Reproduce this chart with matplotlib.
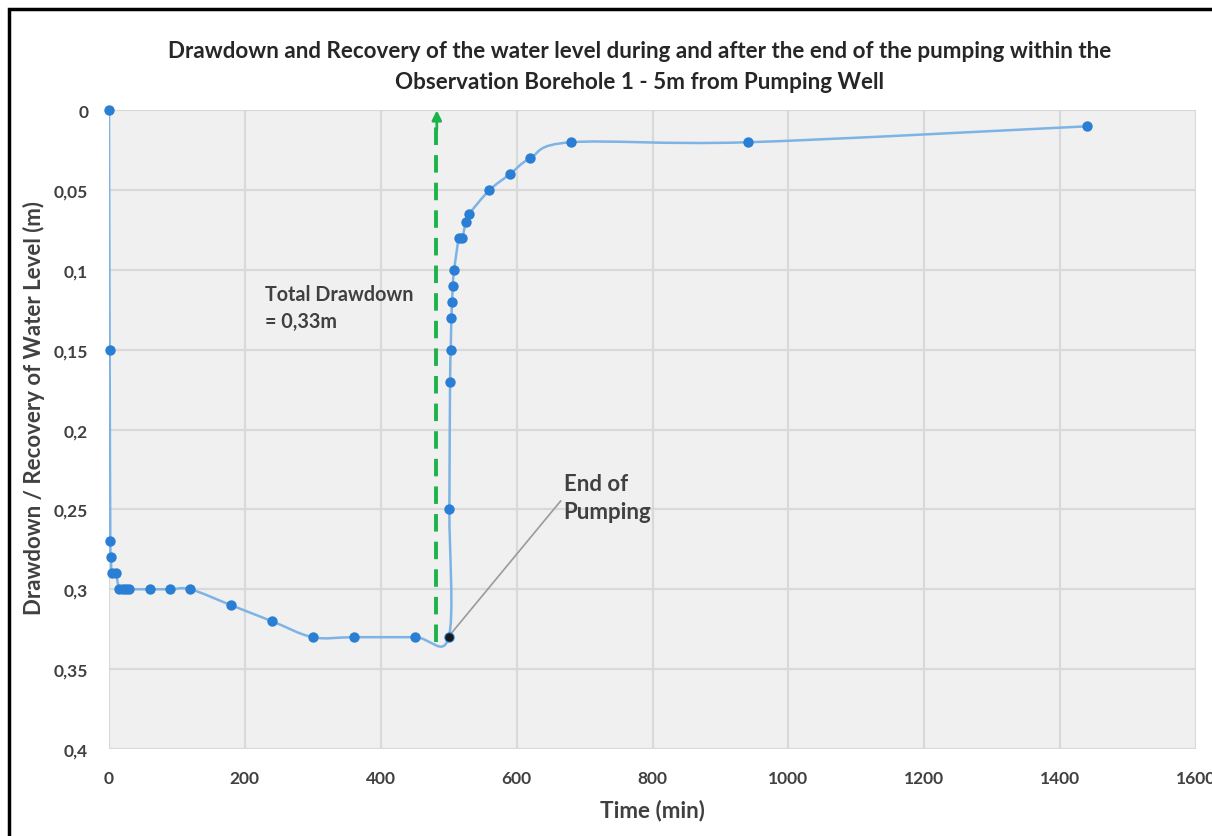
import matplotlib
matplotlib.use("Agg")
import matplotlib.pyplot as plt
from matplotlib.path import Path
from matplotlib.patches import PathPatch, Rectangle
from matplotlib.ticker import FixedLocator, FuncFormatter
import numpy as np

plt.rcParams['font.family'] = ['Lato', 'DejaVu Sans']

# Pumping phase (drawdown) and recovery readings
time_min = [0, 1, 2, 3, 4, 10, 15, 20, 25, 30, 60, 90, 120, 180, 240, 300, 360, 450, 500,
            501, 502, 503, 504, 505, 506, 508, 515, 520, 525, 530, 560, 590, 620, 680, 940, 1440]
level_m = [0, 0.15, 0.27, 0.28, 0.29, 0.29, 0.30, 0.30, 0.30, 0.30, 0.30, 0.30, 0.30, 0.31, 0.32,
           0.33, 0.33, 0.33, 0.33,
           0.25, 0.17, 0.15, 0.13, 0.12, 0.11, 0.10, 0.08, 0.08, 0.07, 0.065, 0.05, 0.04, 0.03,
           0.02, 0.02, 0.01]

end_of_pumping_t = 500
end_of_pumping_level = 0.33
total_drawdown = 0.33
arrow_t = 482

x_ticks = [0, 200, 400, 600, 800, 1000, 1200, 1400, 1600]
y_ticks = [0, 0.05, 0.1, 0.15, 0.2, 0.25, 0.3, 0.35, 0.4]

line_color = '#7eb3e6'
marker_color = '#2a7fd4'
text_color = '#404040'

fig = plt.figure(figsize=(12.12, 8.37), dpi=100)
ax = fig.add_axes([0.0899, 0.104, 0.8970, 0.763])
ax.set_facecolor('#f0f0f0')

# smoothed connecting line (cubic Bezier segments, Catmull-Rom style)
pts = np.column_stack([time_min, level_m]).astype(float)
n = len(pts)
verts = [tuple(pts[0])]
codes = [Path.MOVETO]
for i in range(n - 1):
    p0 = pts[max(i - 1, 0)]
    p1 = pts[i]
    p2 = pts[i + 1]
    p3 = pts[min(i + 2, n - 1)]
    c1 = p1 + (p2 - p0) / 6.0
    c2 = p2 - (p3 - p1) / 6.0
    verts += [tuple(c1), tuple(c2), tuple(p2)]
    codes += [Path.CURVE4] * 3
ax.add_patch(PathPatch(Path(verts, codes), facecolor='none', edgecolor=line_color,
                       lw=1.8, zorder=3))

ax.scatter(time_min, level_m, s=56, color=marker_color, zorder=4, linewidths=0, clip_on=False)
ax.scatter([end_of_pumping_t], [end_of_pumping_level], s=36, color='#1a1a1a', zorder=5,
           linewidths=0)

# dashed green arrow showing the total drawdown
ax.plot([arrow_t, arrow_t], [total_drawdown + 0.003, 0.006], color='#1db34b', lw=2.8,
        dashes=(4.5, 2.6), zorder=3, solid_capstyle='butt', dash_capstyle='butt')
ax.annotate('', xy=(arrow_t + 0.5, 0.0), xytext=(arrow_t + 0.5, 0.012),
            arrowprops=dict(arrowstyle='-|>', color='#1db34b', lw=2.0,
                            mutation_scale=14, shrinkA=0, shrinkB=0), zorder=3)

ax.text(229, 0.109, 'Total Drawdown\n= 0,33m', fontsize=14.2, color=text_color,
        fontweight='bold', ha='left', va='top', linespacing=1.4)

ax.annotate('End of\nPumping', xy=(end_of_pumping_t + 3, end_of_pumping_level - 0.002),
            xytext=(669, 0.2425), fontsize=16, color=text_color, fontweight='bold',
            ha='left', va='center', linespacing=1.45,
            arrowprops=dict(arrowstyle='-', color='#9a9a9a', lw=1.2,
                            shrinkA=0, shrinkB=0, relpos=(0, 0.5)))

ax.set_xlim(0, 1600)
ax.set_ylim(0.4, 0)
ax.xaxis.set_major_locator(FixedLocator(x_ticks))
ax.yaxis.set_major_locator(FixedLocator(y_ticks))
ax.yaxis.set_major_formatter(FuncFormatter(lambda v, p: ('%g' % round(v, 3)).replace('.', ',')))
ax.grid(True, color='#d9d9d9', lw=1.6)
ax.set_axisbelow(True)
for s in ax.spines.values():
    s.set_visible(False)
ax.tick_params(length=0, labelsize=12.5, labelcolor=text_color)
ax.tick_params(axis='y', pad=15)
ax.tick_params(axis='x', pad=15)
for lab in ax.get_xticklabels() + ax.get_yticklabels():
    lab.set_fontweight('bold')
ax.set_xlabel('Time (min)', fontsize=16.2, fontweight='bold', color=text_color, labelpad=9)
ax.set_ylabel('Drawdown / Recovery of Water Level (m)', fontsize=16, fontweight='bold',
              color=text_color, labelpad=10)
ax.yaxis.set_label_coords(-0.0585, 0.535)

fig.text(0.528, 0.920, 'Drawdown and Recovery of the water level during and after the end of the pumping within the\nObservation Borehole 1 - 5m from Pumping Well',
         ha='center', va='center', fontsize=16.1, fontweight='bold', color='#262626',
         linespacing=1.55)

# outer frame
fig.patches.append(Rectangle((0.0074, -0.1), 1.1, 1.088, transform=fig.transFigure,
                             fill=False, edgecolor='black', lw=2.5, zorder=10))

fig.savefig('out.png', dpi=100)
